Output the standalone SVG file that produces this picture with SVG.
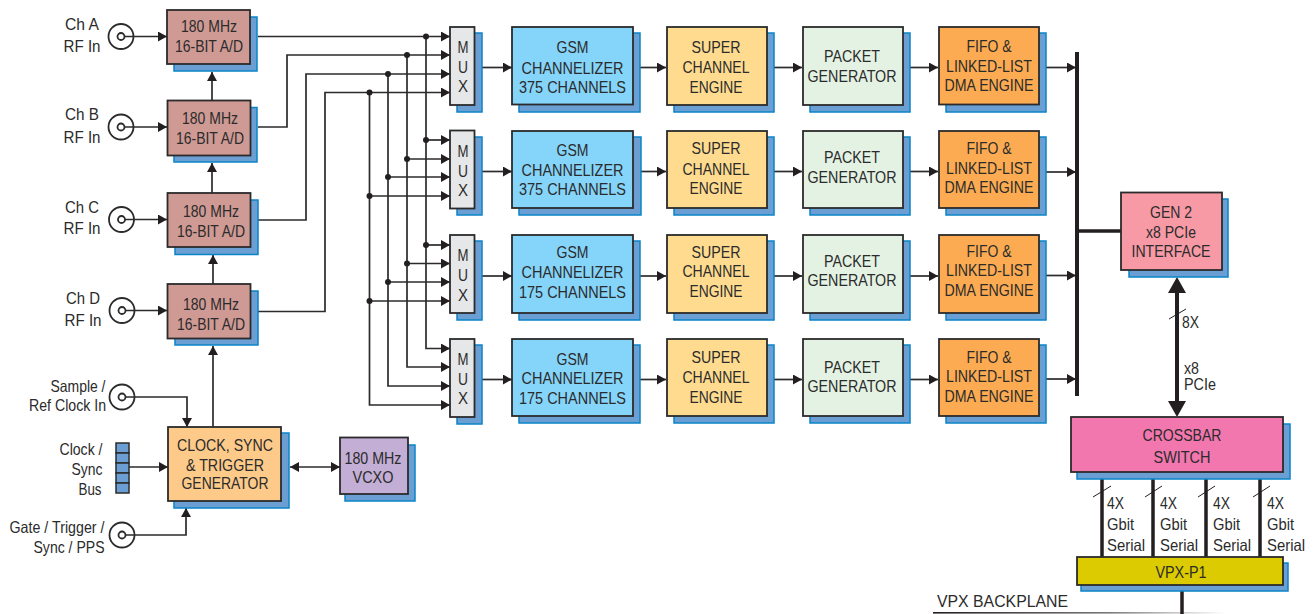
<svg xmlns="http://www.w3.org/2000/svg" width="1313" height="614" viewBox="0 0 1313 614">
<style>
text{font-family:"Liberation Sans",Arial,sans-serif;font-size:16.5px;fill:#2b2b2b;text-anchor:middle}
.l{text-anchor:start}
.sh{fill:#6b9fd4;stroke:#0a84c6;stroke-width:1.5}
.b{stroke:#2b2b2b;stroke-width:1.8}
.adc{fill:#cf9a94}.clk{fill:#fdca8a}.vco{fill:#c3aed6}.mux{fill:#e6e7e8}.gsm{fill:#85d4fa}.sup{fill:#fedb8f}.pkt{fill:#e3f2e3}.ff{fill:#fdab52}.gen{fill:#f79aa6}.xb{fill:#f277ae}.vpx{fill:#dccb00}
.c{fill:none;stroke:#2b2b2b;stroke-width:1.7}
.a{marker-end:url(#ah)}
.t{fill:none;stroke:#231f20;stroke-width:3.5}
.s{fill:none;stroke:#231f20;stroke-width:1}
.co{fill:none;stroke:#2b2b2b;stroke-width:1.8}
.cell{fill:#6b9fd4;stroke:#2b2b2b;stroke-width:1.5}
.d{fill:#231f20}
</style>
<defs>
<marker id="ah" markerUnits="userSpaceOnUse" markerWidth="10" markerHeight="11" refX="9" refY="5" orient="auto"><path d="M0,0L9,5L0,10z" fill="#231f20"/></marker>
<marker id="ahs" markerUnits="userSpaceOnUse" markerWidth="10" markerHeight="11" refX="0" refY="5" orient="auto"><path d="M9,0L0,5L9,10z" fill="#231f20"/></marker>
<marker id="big" markerUnits="userSpaceOnUse" markerWidth="18" markerHeight="18" refX="3" refY="9" orient="auto"><path d="M0,0L16,9L0,18z" fill="#231f20"/></marker>
<marker id="bigs" markerUnits="userSpaceOnUse" markerWidth="18" markerHeight="18" refX="13" refY="9" orient="auto"><path d="M16,0L0,9L16,18z" fill="#231f20"/></marker>
<linearGradient id="bp" x1="0" x2="1" y1="0" y2="0"><stop offset="0" stop-color="#231f20"/><stop offset="0.6" stop-color="#231f20" stop-opacity="0.6"/><stop offset="1" stop-color="#231f20" stop-opacity="0"/></linearGradient>
</defs>

<g id="connectors">
<path class="c a" d="M125,36.5H167"/><path class="c a" d="M125,127H167"/><path class="c a" d="M125,219.500H167"/><path class="c a" d="M125,310.500H167"/>
<path class="c a" d="M212,100V72"/><path class="c a" d="M212,193V163"/><path class="c a" d="M213,284V255"/><path class="c a" d="M213,427V346"/>
<path class="c a" d="M126,397H187V427"/><path class="c a" d="M129,467H168"/><path class="c a" d="M126,535H186V508"/>
<path class="c a" d="M290,467H340" marker-start="url(#ahs)"/>
<path class="c a" d="M258,36.5H450"/><path class="c a" d="M258,127H287V55H450"/><path class="c a" d="M258,220H306V74H450"/><path class="c a" d="M258,311.500H325V92.5H450"/>
<path class="c a" d="M426,36.5V348.5H450"/><path class="c a" d="M407,55V367H450"/><path class="c a" d="M388,74V386H450"/><path class="c a" d="M369.5,92.5V405H450"/>
<path class="c a" d="M426,140H450"/><path class="c a" d="M407,159H450"/><path class="c a" d="M388,177H450"/><path class="c a" d="M369.5,196H450"/>
<path class="c a" d="M426,245H450"/><path class="c a" d="M407,263.5H450"/><path class="c a" d="M388,282H450"/><path class="c a" d="M369.5,301H450"/>
<g class="d"><circle cx="426" cy="36.5" r="3"/><circle cx="407" cy="55" r="3"/><circle cx="388" cy="74" r="3"/><circle cx="369.5" cy="92.5" r="3"/><circle cx="426" cy="140" r="3"/><circle cx="407" cy="159" r="3"/><circle cx="388" cy="177" r="3"/><circle cx="369.5" cy="196" r="3"/><circle cx="426" cy="245" r="3"/><circle cx="407" cy="263.5" r="3"/><circle cx="388" cy="282" r="3"/><circle cx="369.5" cy="301" r="3"/></g>
<path class="c a" d="M482,67.5H512"/><path class="c a" d="M640,67.5H666"/><path class="c a" d="M774,67.5H802"/><path class="c a" d="M910,67.5H938"/><path class="c a" d="M1046,67.5H1076"/>
<path class="c a" d="M482,171.5H512"/><path class="c a" d="M640,171.5H666"/><path class="c a" d="M774,171.5H802"/><path class="c a" d="M908,171.5H938"/><path class="c a" d="M1046,172H1076"/>
<path class="c a" d="M482,276H512"/><path class="c a" d="M640,276H666"/><path class="c a" d="M774,276H802"/><path class="c a" d="M910,276H938"/><path class="c a" d="M1046,275.5H1076"/>
<path class="c a" d="M482,379.5H512"/><path class="c a" d="M640,379.5H666"/><path class="c a" d="M774,379.5H802"/><path class="c a" d="M910,379.5H938"/><path class="c a" d="M1046,379H1076"/>
<path class="t" style="stroke-width:4" d="M1077,52V396"/><path class="t" d="M1077,231H1121"/>
<path class="t" style="stroke-width:4" d="M1177,290V404" marker-start="url(#bigs)" marker-end="url(#big)"/>
<path class="s" d="M1169,319L1186,309"/>
<path class="t" d="M1102,479V557M1153,479V557M1206,479V557M1260,479V557"/>
<path class="s" d="M1093,497L1111,486M1145,497L1162,486M1198,497L1215,486M1253,497L1270,486"/>
<path class="t" d="M1182,591V614"/>
<rect x="933" y="612" width="292" height="1.6" fill="url(#bp)"/>
</g>

<g id="inputs">
<g id="ch-a-in"><circle class="co" cx="121" cy="36.5" r="12.5"/><circle class="co" cx="121" cy="36.5" r="3.5"/><text x="82" y="30" textLength="34" lengthAdjust="spacingAndGlyphs">Ch A</text><text x="82" y="52" textLength="37" lengthAdjust="spacingAndGlyphs">RF In</text></g>
<g id="ch-b-in"><circle class="co" cx="121" cy="127" r="12.5"/><circle class="co" cx="121" cy="127" r="3.5"/><text x="82" y="120" textLength="34" lengthAdjust="spacingAndGlyphs">Ch B</text><text x="82" y="143" textLength="37" lengthAdjust="spacingAndGlyphs">RF In</text></g>
<g id="ch-c-in"><circle class="co" cx="121.500" cy="219.500" r="12.5"/><circle class="co" cx="121.500" cy="219.500" r="3.5"/><text x="82" y="213" textLength="34" lengthAdjust="spacingAndGlyphs">Ch C</text><text x="82" y="234" textLength="37" lengthAdjust="spacingAndGlyphs">RF In</text></g>
<g id="ch-d-in"><circle class="co" cx="122" cy="310.500" r="12.5"/><circle class="co" cx="122" cy="310.500" r="3.5"/><text x="83" y="304" textLength="34" lengthAdjust="spacingAndGlyphs">Ch D</text><text x="83" y="326" textLength="37" lengthAdjust="spacingAndGlyphs">RF In</text></g>
<g id="sample-in"><circle class="co" cx="122" cy="397" r="12.5"/><circle class="co" cx="122" cy="397" r="3.5"/><text x="78" y="392" textLength="55" lengthAdjust="spacingAndGlyphs">Sample /</text><text x="67.5" y="411" textLength="77" lengthAdjust="spacingAndGlyphs">Ref Clock In</text></g>
<g id="clock-bus"><rect class="cell" x="116" y="443" width="13" height="10"/><rect class="cell" x="116" y="453" width="13" height="10"/><rect class="cell" x="116" y="463" width="13" height="10"/><rect class="cell" x="116" y="473" width="13" height="10"/><rect class="cell" x="116" y="483" width="13" height="10"/><text x="81" y="455" textLength="43" lengthAdjust="spacingAndGlyphs">Clock /</text><text x="87" y="475" textLength="31" lengthAdjust="spacingAndGlyphs">Sync</text><text x="90" y="495" textLength="23" lengthAdjust="spacingAndGlyphs">Bus</text></g>
<g id="gate-in"><circle class="co" cx="122" cy="535" r="12.5"/><circle class="co" cx="122" cy="535" r="3.5"/><text x="57" y="533" textLength="95" lengthAdjust="spacingAndGlyphs">Gate / Trigger /</text><text x="69" y="553" textLength="71" lengthAdjust="spacingAndGlyphs">Sync / PPS</text></g>
</g>

<g id="adc-a"><rect class="sh" x="174" y="17" width="83" height="54"/><rect class="b adc" x="167" y="10" width="83" height="54"/><text x="209" y="32" textLength="56" lengthAdjust="spacingAndGlyphs">180 MHz</text><text x="209" y="52" textLength="68" lengthAdjust="spacingAndGlyphs">16-BIT A/D</text></g>
<g id="adc-b"><rect class="sh" x="174" y="107.500" width="83" height="54.500"/><rect class="b adc" x="167.500" y="100.500" width="83" height="55"/><text x="210" y="124" textLength="56" lengthAdjust="spacingAndGlyphs">180 MHz</text><text x="210" y="144" textLength="68" lengthAdjust="spacingAndGlyphs">16-BIT A/D</text></g>
<g id="adc-c"><rect class="sh" x="175" y="200" width="83" height="54.500"/><rect class="b adc" x="167.500" y="193" width="83" height="54"/><text x="211" y="217" textLength="56" lengthAdjust="spacingAndGlyphs">180 MHz</text><text x="211" y="237" textLength="68" lengthAdjust="spacingAndGlyphs">16-BIT A/D</text></g>
<g id="adc-d"><rect class="sh" x="175" y="291" width="83" height="54"/><rect class="b adc" x="167.500" y="284" width="83" height="54.500"/><text x="211" y="310" textLength="56" lengthAdjust="spacingAndGlyphs">180 MHz</text><text x="211" y="330" textLength="68" lengthAdjust="spacingAndGlyphs">16-BIT A/D</text></g>
<g id="clock-gen"><rect class="sh" x="174" y="433" width="115" height="75"/><rect class="b clk" x="168" y="427" width="113" height="74"/><text x="225" y="451" textLength="96" lengthAdjust="spacingAndGlyphs">CLOCK, SYNC</text><text x="225" y="471" textLength="78" lengthAdjust="spacingAndGlyphs">&amp; TRIGGER</text><text x="225" y="489" textLength="87" lengthAdjust="spacingAndGlyphs">GENERATOR</text></g>
<g id="vcxo"><rect class="sh" x="345" y="445" width="70" height="56"/><rect class="b vco" x="340" y="437.500" width="68" height="56.500"/><text x="373" y="464" textLength="57" lengthAdjust="spacingAndGlyphs">180 MHz</text><text x="373" y="483" textLength="41" lengthAdjust="spacingAndGlyphs">VCXO</text></g>

<g id="mux-1"><rect class="sh" x="457" y="33" width="25" height="79"/><rect class="b mux" x="450" y="27" width="24.500" height="78"/><text x="463" y="53" textLength="11" lengthAdjust="spacingAndGlyphs">M</text><text x="463" y="73" textLength="10" lengthAdjust="spacingAndGlyphs">U</text><text x="463" y="92" textLength="10" lengthAdjust="spacingAndGlyphs">X</text></g>
<g id="mux-2"><rect class="sh" x="457" y="137" width="25" height="78"/><rect class="b mux" x="450" y="130.500" width="24.500" height="78"/><text x="463" y="157" textLength="11" lengthAdjust="spacingAndGlyphs">M</text><text x="463" y="177" textLength="10" lengthAdjust="spacingAndGlyphs">U</text><text x="463" y="196" textLength="10" lengthAdjust="spacingAndGlyphs">X</text></g>
<g id="mux-3"><rect class="sh" x="457" y="241" width="25" height="79"/><rect class="b mux" x="450" y="235" width="24.500" height="78"/><text x="463" y="261" textLength="11" lengthAdjust="spacingAndGlyphs">M</text><text x="463" y="281" textLength="10" lengthAdjust="spacingAndGlyphs">U</text><text x="463" y="301" textLength="10" lengthAdjust="spacingAndGlyphs">X</text></g>
<g id="mux-4"><rect class="sh" x="457" y="345" width="25" height="79"/><rect class="b mux" x="450" y="339" width="24.500" height="78"/><text x="463" y="365" textLength="11" lengthAdjust="spacingAndGlyphs">M</text><text x="463" y="385" textLength="10" lengthAdjust="spacingAndGlyphs">U</text><text x="463" y="404" textLength="10" lengthAdjust="spacingAndGlyphs">X</text></g>

<g id="gsm-1"><rect class="sh" x="519" y="33" width="121" height="79"/><rect class="b gsm" x="512" y="27" width="121" height="77.500"/><text x="572.500" y="53" textLength="32" lengthAdjust="spacingAndGlyphs">GSM</text><text x="572.500" y="74" textLength="102" lengthAdjust="spacingAndGlyphs">CHANNELIZER</text><text x="572.500" y="93" textLength="107" lengthAdjust="spacingAndGlyphs">375 CHANNELS</text></g>
<g id="gsm-2"><rect class="sh" x="519" y="137" width="122" height="78"/><rect class="b gsm" x="512" y="131" width="121" height="77"/><text x="572.500" y="156" textLength="32" lengthAdjust="spacingAndGlyphs">GSM</text><text x="572.500" y="176" textLength="102" lengthAdjust="spacingAndGlyphs">CHANNELIZER</text><text x="572.500" y="195" textLength="107" lengthAdjust="spacingAndGlyphs">375 CHANNELS</text></g>
<g id="gsm-3"><rect class="sh" x="519" y="241" width="121" height="79"/><rect class="b gsm" x="512" y="235" width="121" height="78"/><text x="572.500" y="258" textLength="32" lengthAdjust="spacingAndGlyphs">GSM</text><text x="572.500" y="278" textLength="102" lengthAdjust="spacingAndGlyphs">CHANNELIZER</text><text x="572.500" y="298" textLength="107" lengthAdjust="spacingAndGlyphs">175 CHANNELS</text></g>
<g id="gsm-4"><rect class="sh" x="519" y="345" width="121" height="78"/><rect class="b gsm" x="512" y="339" width="121" height="77"/><text x="572.500" y="365" textLength="32" lengthAdjust="spacingAndGlyphs">GSM</text><text x="572.500" y="384" textLength="102" lengthAdjust="spacingAndGlyphs">CHANNELIZER</text><text x="572.500" y="404" textLength="107" lengthAdjust="spacingAndGlyphs">175 CHANNELS</text></g>

<g id="super-1"><rect class="sh" x="674" y="33" width="100" height="79"/><rect class="b sup" x="667" y="27" width="100" height="78"/><text x="716" y="53" textLength="49" lengthAdjust="spacingAndGlyphs">SUPER</text><text x="716" y="73" textLength="67" lengthAdjust="spacingAndGlyphs">CHANNEL</text><text x="716" y="93" textLength="53" lengthAdjust="spacingAndGlyphs">ENGINE</text></g>
<g id="super-2"><rect class="sh" x="674" y="137" width="100" height="78"/><rect class="b sup" x="667" y="131" width="100" height="77"/><text x="716" y="154" textLength="49" lengthAdjust="spacingAndGlyphs">SUPER</text><text x="716" y="175" textLength="67" lengthAdjust="spacingAndGlyphs">CHANNEL</text><text x="716" y="194" textLength="53" lengthAdjust="spacingAndGlyphs">ENGINE</text></g>
<g id="super-3"><rect class="sh" x="674" y="241" width="100" height="79"/><rect class="b sup" x="667" y="235" width="100" height="78"/><text x="716" y="258" textLength="49" lengthAdjust="spacingAndGlyphs">SUPER</text><text x="716" y="277" textLength="67" lengthAdjust="spacingAndGlyphs">CHANNEL</text><text x="716" y="297" textLength="53" lengthAdjust="spacingAndGlyphs">ENGINE</text></g>
<g id="super-4"><rect class="sh" x="674" y="345" width="100" height="78"/><rect class="b sup" x="667" y="339" width="100" height="77"/><text x="716" y="363" textLength="49" lengthAdjust="spacingAndGlyphs">SUPER</text><text x="716" y="383" textLength="67" lengthAdjust="spacingAndGlyphs">CHANNEL</text><text x="716" y="403" textLength="53" lengthAdjust="spacingAndGlyphs">ENGINE</text></g>

<g id="packet-1"><rect class="sh" x="810" y="33" width="100" height="79"/><rect class="b pkt" x="803" y="27" width="100" height="78"/><text x="852" y="62" textLength="56" lengthAdjust="spacingAndGlyphs">PACKET</text><text x="852" y="82" textLength="89" lengthAdjust="spacingAndGlyphs">GENERATOR</text></g>
<g id="packet-2"><rect class="sh" x="810" y="137" width="100" height="78"/><rect class="b pkt" x="803" y="131" width="100" height="77"/><text x="852" y="163" textLength="56" lengthAdjust="spacingAndGlyphs">PACKET</text><text x="852" y="183" textLength="89" lengthAdjust="spacingAndGlyphs">GENERATOR</text></g>
<g id="packet-3"><rect class="sh" x="810" y="241" width="100" height="79"/><rect class="b pkt" x="803" y="235" width="100" height="78"/><text x="852" y="267" textLength="56" lengthAdjust="spacingAndGlyphs">PACKET</text><text x="852" y="286" textLength="89" lengthAdjust="spacingAndGlyphs">GENERATOR</text></g>
<g id="packet-4"><rect class="sh" x="810" y="345" width="100" height="78"/><rect class="b pkt" x="803" y="339" width="100" height="77"/><text x="852" y="373" textLength="56" lengthAdjust="spacingAndGlyphs">PACKET</text><text x="852" y="392" textLength="89" lengthAdjust="spacingAndGlyphs">GENERATOR</text></g>

<g id="fifo-1"><rect class="sh" x="946" y="33" width="100" height="79"/><rect class="b ff" x="939" y="27" width="100" height="77.500"/><text x="989" y="52" textLength="45" lengthAdjust="spacingAndGlyphs">FIFO &amp;</text><text x="989" y="72" textLength="86" lengthAdjust="spacingAndGlyphs">LINKED-LIST</text><text x="989" y="91" textLength="89" lengthAdjust="spacingAndGlyphs">DMA ENGINE</text></g>
<g id="fifo-2"><rect class="sh" x="946" y="137" width="100" height="78"/><rect class="b ff" x="939" y="131" width="100" height="77"/><text x="989" y="154" textLength="45" lengthAdjust="spacingAndGlyphs">FIFO &amp;</text><text x="989" y="174" textLength="86" lengthAdjust="spacingAndGlyphs">LINKED-LIST</text><text x="989" y="193" textLength="89" lengthAdjust="spacingAndGlyphs">DMA ENGINE</text></g>
<g id="fifo-3"><rect class="sh" x="946" y="241" width="100" height="79"/><rect class="b ff" x="939" y="235" width="100" height="78"/><text x="989" y="257" textLength="45" lengthAdjust="spacingAndGlyphs">FIFO &amp;</text><text x="989" y="276" textLength="86" lengthAdjust="spacingAndGlyphs">LINKED-LIST</text><text x="989" y="296" textLength="89" lengthAdjust="spacingAndGlyphs">DMA ENGINE</text></g>
<g id="fifo-4"><rect class="sh" x="946" y="345" width="100" height="78"/><rect class="b ff" x="939" y="339" width="100" height="77"/><text x="989" y="363" textLength="45" lengthAdjust="spacingAndGlyphs">FIFO &amp;</text><text x="989" y="382" textLength="86" lengthAdjust="spacingAndGlyphs">LINKED-LIST</text><text x="989" y="402" textLength="89" lengthAdjust="spacingAndGlyphs">DMA ENGINE</text></g>

<g id="pcie-if"><rect class="sh" x="1129" y="199" width="99" height="78"/><rect class="b gen" x="1121" y="192.500" width="101" height="77.500"/><text x="1171" y="218" textLength="42" lengthAdjust="spacingAndGlyphs">GEN 2</text><text x="1171" y="238" textLength="50" lengthAdjust="spacingAndGlyphs">x8 PCIe</text><text x="1171" y="257" textLength="79" lengthAdjust="spacingAndGlyphs">INTERFACE</text></g>
<g id="crossbar"><rect class="sh" x="1077" y="424" width="213" height="55"/><rect class="b xb" x="1071" y="417" width="212" height="55"/><text x="1182" y="441" textLength="79" lengthAdjust="spacingAndGlyphs">CROSSBAR</text><text x="1182" y="463" textLength="57" lengthAdjust="spacingAndGlyphs">SWITCH</text></g>
<g id="vpx-p1"><rect class="sh" x="1081" y="563" width="207" height="28"/><rect class="b vpx" x="1077" y="557" width="206" height="28"/><text x="1181" y="578" textLength="51" lengthAdjust="spacingAndGlyphs">VPX-P1</text></g>

<g id="labels">
<text class="l" x="1182" y="328" textLength="17" lengthAdjust="spacingAndGlyphs">8X</text>
<text class="l" x="1184" y="374" textLength="15" lengthAdjust="spacingAndGlyphs">x8</text>
<text class="l" x="1184" y="390" textLength="32" lengthAdjust="spacingAndGlyphs">PCIe</text>
<text class="l" x="1107" y="509" textLength="17" lengthAdjust="spacingAndGlyphs">4X</text><text class="l" x="1107" y="530" textLength="27" lengthAdjust="spacingAndGlyphs">Gbit</text><text class="l" x="1107" y="551" textLength="38" lengthAdjust="spacingAndGlyphs">Serial</text>
<text class="l" x="1160" y="509" textLength="17" lengthAdjust="spacingAndGlyphs">4X</text><text class="l" x="1160" y="530" textLength="27" lengthAdjust="spacingAndGlyphs">Gbit</text><text class="l" x="1160" y="551" textLength="38" lengthAdjust="spacingAndGlyphs">Serial</text>
<text class="l" x="1213" y="509" textLength="17" lengthAdjust="spacingAndGlyphs">4X</text><text class="l" x="1213" y="530" textLength="27" lengthAdjust="spacingAndGlyphs">Gbit</text><text class="l" x="1213" y="551" textLength="38" lengthAdjust="spacingAndGlyphs">Serial</text>
<text class="l" x="1267" y="509" textLength="17" lengthAdjust="spacingAndGlyphs">4X</text><text class="l" x="1267" y="530" textLength="27" lengthAdjust="spacingAndGlyphs">Gbit</text><text class="l" x="1267" y="551" textLength="38" lengthAdjust="spacingAndGlyphs">Serial</text>
<text class="l" x="937" y="607" textLength="131" lengthAdjust="spacingAndGlyphs">VPX BACKPLANE</text>
</g>
</svg>
